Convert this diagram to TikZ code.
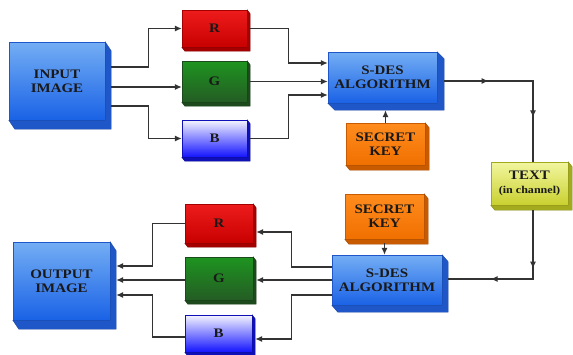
\documentclass[tikz,border=0pt]{standalone}
\usepackage{fontspec}
\setmainfont{Liberation Serif}[FakeStretch=1.15]
\usepackage{tikz}
\usetikzlibrary{arrows.meta,calc}
\definecolor{cBlueT}{HTML}{74AEF4}
\definecolor{cBlueB}{HTML}{1A62E6}
\definecolor{cBlueD}{HTML}{1F56C8}
\definecolor{cRedT}{HTML}{EE1C1C}
\definecolor{cRedB}{HTML}{C80000}
\definecolor{cRedD}{HTML}{A50000}
\definecolor{cGrnT}{HTML}{1E9420}
\definecolor{cGrnB}{HTML}{245C24}
\definecolor{cGrnD}{HTML}{1D4A1D}
\definecolor{cChT}{HTML}{F4F4FF}
\definecolor{cChB}{HTML}{1414FF}
\definecolor{cChD}{HTML}{1010B8}
\definecolor{cKeyT}{HTML}{FF8C1E}
\definecolor{cKeyB}{HTML}{F07000}
\definecolor{cKeyD}{HTML}{C85A00}
\definecolor{cTxtT}{HTML}{F2F6A0}
\definecolor{cTxtB}{HTML}{C9D02E}
\definecolor{cTxtD}{HTML}{A4AA1E}
\definecolor{cLine}{HTML}{333333}
\tikzset{
  cube/.style  ={inner sep=0pt, align=center, text=black!90, font=\bfseries\fontsize{13}{14}\selectfont},
  imgbox/.style={cube, draw=cBlueD, top color=cBlueT, bottom color=cBlueB},
  rbox/.style  ={cube, draw=cRedD, top color=cRedT, bottom color=cRedB},
  gbox/.style  ={cube, draw=cGrnD, top color=cGrnT, bottom color=cGrnB},
  bbox/.style  ={cube, draw=cChD, top color=cChT, bottom color=cChB},
  keybox/.style={cube, draw=cKeyD, top color=cKeyT, bottom color=cKeyB},
  txtbox/.style={cube, draw=cTxtD, top color=cTxtT, bottom color=cTxtB},
  arrow/.style ={-{Latex[length=7pt,width=6pt]}, line width=1.1pt, draw=cLine},
  link/.style  ={line width=1.1pt, draw=cLine},
}

\begin{document}
\begin{tikzpicture}[x=1pt, y=-1pt]
        \useasboundingbox (0,0) rectangle (573,354);
        \node[imgbox, minimum width=96, minimum height=78] (inp) at (57,81){INPUT\\IMAGE};
        \node[rbox, minimum width=65, minimum height=37] (r1) at (214.5,28.5){R};
        \node[gbox, minimum width=65, minimum height=41] (g1) at (214.5,81.5){G};
        \node[bbox, minimum width=65, minimum height=37] (b1) at (214.5,138.5){B};
        \node[imgbox, minimum width=109, minimum height=51] (sdes1) at (382.5,77.5){S-DES\\ALGORITHM};
        \node[keybox, minimum width=79, minimum height=42] (key1) at (385.5,144){SECRET\\KEY};
        \node[txtbox, minimum width=77, minimum height=43] (txt) at (529.5,183.5){TEXT\\{\fontsize{10.5}{12}\selectfont (in channel)}};
        \node[keybox, minimum width=79, minimum height=45] (key2) at (384.5,216.5){SECRET\\KEY};
        \node[imgbox, minimum width=110, minimum height=50] (sdes2) at (387,280){S-DES\\ALGORITHM};
        \node[rbox, minimum width=68, minimum height=39] (r2) at (219,223.5){R};
        \node[gbox, minimum width=68, minimum height=43] (g2) at (219,278.5){G};
        \node[bbox, minimum width=67, minimum height=37] (b2) at (218.5,333.5){B};
        \node[imgbox, minimum width=97, minimum height=78] (out) at (61.5,281){OUTPUT\\IMAGE};
        \foreach \n/\d/\dx/\dy in {inp/cBlueD/6/9, r1/cRedD/3/4, g1/cGrnD/3/4, b1/cChD/3/4,
            sdes1/cBlueD/7/7, key1/cKeyD/4/5, txt/cTxtD/4/5, key2/cKeyD/4/5,
            sdes2/cBlueD/6/7, r2/cRedD/3/4, g2/cGrnD/3/4, b2/cChD/3/4, out/cBlueD/6/9}
          \filldraw[fill=\d, draw=\d!80!black, line width=0.4pt] (\n.north east) -- ++(\dx,\dy)
            -- ([shift={(\dx,\dy)}]\n.south east) -- ([shift={(\dx,\dy)}]\n.south west)
            -- (\n.south west) -- (\n.south east) -- cycle;
        \coordinate (c1) at (533,81);
        \coordinate (c2) at (533,279);
        \coordinate (s1b) at ([yshift=-7]sdes1.south);
        \coordinate (s1e) at ([xshift=7,yshift=-3.5]sdes1.east);
        \coordinate (tn) at ([xshift=3.5]txt.north);
        \coordinate (ts) at ([xshift=3.5,yshift=-5]txt.south);
        \coordinate (s2e) at ([xshift=6,yshift=1]sdes2.east);
        \draw[arrow] ([xshift=6,yshift=14]inp.east) -- ++(37,0) |- (r1.west);
        \draw[arrow] ([xshift=6,yshift=-6]inp.east) -- ([yshift=-5.5]g1.west);
        \draw[arrow] ([xshift=6,yshift=-25]inp.east) -- ++(37,0) |- (b1.west);
        \draw[arrow] ([xshift=3]r1.east) -- ++(38,0) |- ([yshift=14.5]sdes1.west);
        \draw[arrow] ([xshift=3]g1.east) -- ([yshift=-4]sdes1.west);
        \draw[arrow] ([xshift=3]b1.east) -- ++(38,0) |- ([yshift=-17.5]sdes1.west);
        \draw[arrow] (key1.north) -- (key1.north |- s1b);
        \draw[link] (s1e) -- (c1) -- (tn);
        \draw[arrow] (s1e) -- ($(s1e)!0.5!(c1)$);
        \draw[arrow] (c1) -- ($(c1)!0.45!(tn)$);
        \draw[link] (ts) -- (c2) -- (s2e);
        \draw[arrow] (ts) -- ($(ts)!0.85!(c2)$);
        \draw[arrow] (c2) -- ($(c2)!0.5!(s2e)$);
        \draw[arrow] ([yshift=-4]key2.south) -- (key2.south |- sdes2.north);
        \draw[arrow] ([yshift=13]sdes2.west) -- ++(-40,0) |- ([xshift=3,yshift=-8.5]r2.east);
        \draw[arrow] (sdes2.west) -- ([xshift=3,yshift=-1.5]g2.east);
        \draw[arrow] ([yshift=-15]sdes2.west) -- ++(-40,0) |- ([xshift=3,yshift=-5.5]b2.east);
        \draw[arrow] (r2.west) -- ++(-32,0) |- ([xshift=6,yshift=15]out.east);
        \draw[arrow] ([yshift=-1.5]g2.west) -- ([xshift=6,yshift=1]out.east);
        \draw[arrow] ([yshift=-3.5]b2.west) -- ++(-32,0) |- ([xshift=6,yshift=-14]out.east);
      \end{tikzpicture}
\end{document}
